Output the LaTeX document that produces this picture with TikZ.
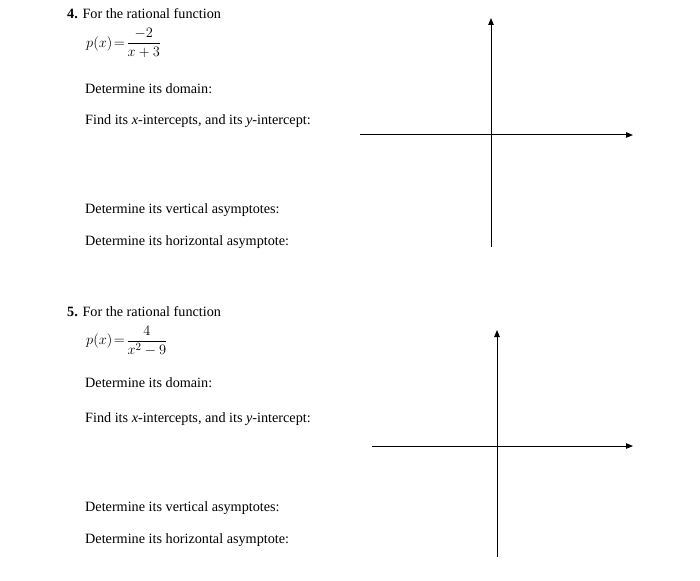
\documentclass[tikz,border=0pt]{standalone}
\usepackage{amsmath}
\usepackage{fontspec}
\setmainfont{Liberation Serif}
\usetikzlibrary{arrows.meta}
\begin{document}
\begin{tikzpicture}[x=1pt,y=-1pt,
  txt/.style={anchor=west,font=\fontsize{14.2}{16}\selectfont,inner sep=0},
  fml/.style={anchor=west,font=\fontsize{15}{17}\selectfont,inner sep=0},
  ax/.style={line width=1pt,-{Triangle[length=7pt,width=5.5pt]}}]
\useasboundingbox (0,0) rectangle (700,580);
\node[txt] (h4) at (67,14) {\textbf{4.} For the rational function};
\node[fml] (f4) at (86,43) {$p(x)\!=\!\dfrac{-2}{x+3}$};
\node[txt] (d4) at (85,89) {Determine its domain:};
\node[txt] (i4) at (85,121) {Find its \emph{x}-intercepts, and its \emph{y}-intercept:};
\node[txt] (v4) at (85,210) {Determine its vertical asymptotes:};
\node[txt] (ha4) at (85,242) {Determine its horizontal asymptote:};
\coordinate (a1) at (491,247); \coordinate (a2) at (491,18);
\coordinate (b1) at (360,135); \coordinate (b2) at (633,135);
\draw[ax] (a1) -- (a2);
\draw[ax] (b1) -- (b2);
\node[txt] (h5) at (67,312) {\textbf{5.} For the rational function};
\node[fml] (f5) at (86,341) {$p(x)\!=\!\dfrac{4}{x^2-9}$};
\node[txt] (d5) at (85,383) {Determine its domain:};
\node[txt] (i5) at (85,419) {Find its \emph{x}-intercepts, and its \emph{y}-intercept:};
\node[txt] (v5) at (85,508) {Determine its vertical asymptotes:};
\node[txt] (ha5) at (85,540) {Determine its horizontal asymptote:};
\coordinate (c1) at (497,557); \coordinate (c2) at (497,330);
\coordinate (e1) at (372,446); \coordinate (e2) at (633,446);
\draw[ax] (c1) -- (c2);
\draw[ax] (e1) -- (e2);
\end{tikzpicture}
\end{document}
